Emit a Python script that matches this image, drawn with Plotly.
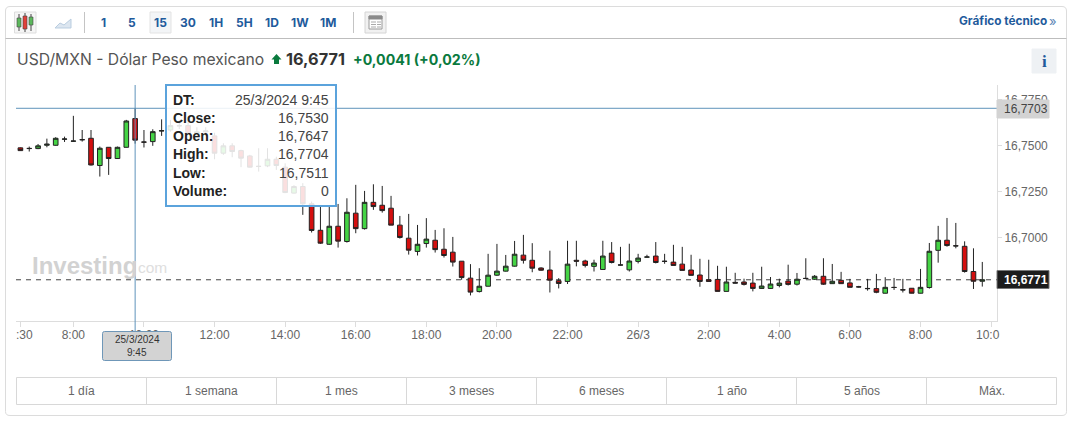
import pandas as pd
import plotly.graph_objects as go

times = pd.date_range("2024-03-25 06:30", periods=110, freq="15min")

opens = [16.7488,16.7484,16.7484,16.7502,16.7502,16.7535,16.7524,16.7533,16.7540,16.7392,
16.7491,16.7430,16.7491,16.7647,16.7520,16.7522,16.7580,16.7585,16.7608,16.7609,
16.7565,16.7575,16.7553,16.7459,16.7499,16.7473,16.7444,16.7388,16.7390,16.7426,
16.7383,16.7242,16.7278,16.7184,16.7040,16.6964,16.7062,16.6979,16.7133,16.7049,
16.7192,16.7176,16.7160,16.7068,16.6997,16.6925,16.6968,16.6986,16.6937,16.6921,
16.6872,16.6780,16.6707,16.6736,16.6796,16.6818,16.6845,16.6905,16.6877,16.6835,
16.6824,16.6766,16.6762,16.6877,16.6873,16.6844,16.6827,16.6916,16.6852,16.6825,
16.6871,16.6894,16.6900,16.6872,16.6867,16.6856,16.6824,16.6797,16.6771,16.6773,
16.6708,16.6757,16.6759,16.6753,16.6724,16.6724,16.6740,16.6764,16.6747,16.6779,
16.6774,16.6790,16.6750,16.6768,16.6754,16.6733,16.6724,16.6723,16.6698,16.6730,
16.6717,16.6725,16.6698,16.6729,16.6931,16.6986,16.6956,16.6953,16.6816,16.6763]
highs = [16.7490,16.7495,16.7509,16.7538,16.7546,16.7549,16.7662,16.7585,16.7585,16.7495,
16.7492,16.7495,16.7640,16.7704,16.7585,16.7589,16.7643,16.7640,16.7640,16.7640,
16.7600,16.7600,16.7570,16.7513,16.7513,16.7478,16.7450,16.7486,16.7486,16.7440,
16.7404,16.7285,16.7296,16.7196,16.7173,16.7173,16.7183,16.7214,16.7287,16.7254,
16.7290,16.7281,16.7227,16.7118,16.7129,16.7069,16.7106,16.7042,16.7051,16.7004,
16.6873,16.6856,16.6834,16.6912,16.6966,16.6906,16.6982,16.7015,16.6970,16.6839,
16.6929,16.6780,16.6983,16.6983,16.6880,16.6880,16.6983,16.6976,16.6950,16.6967,
16.6912,16.6907,16.6976,16.6912,16.6961,16.6950,16.6907,16.6885,16.6880,16.6847,
16.6842,16.6809,16.6777,16.6809,16.6842,16.6786,16.6777,16.6853,16.6808,16.6888,
16.6797,16.6888,16.6857,16.6814,16.6776,16.6738,16.6776,16.6803,16.6785,16.6781,
16.6776,16.6726,16.6830,16.6971,16.7064,16.7107,16.7080,16.6980,16.6942,16.6868]
lows = [16.7471,16.7468,16.7481,16.7491,16.7500,16.7520,16.7522,16.7522,16.7392,16.7332,
16.7341,16.7428,16.7490,16.7511,16.7490,16.7499,16.7553,16.7576,16.7590,16.7560,
16.7550,16.7555,16.7426,16.7450,16.7437,16.7383,16.7381,16.7359,16.7383,16.7368,
16.7242,16.7240,16.7124,16.7028,16.6966,16.6961,16.6946,16.6973,16.7024,16.7044,
16.7151,16.7136,16.7068,16.6995,16.6908,16.6903,16.6946,16.6919,16.6892,16.6843,
16.6771,16.6686,16.6702,16.6735,16.6792,16.6816,16.6843,16.6859,16.6812,16.6820,
16.6702,16.6724,16.6748,16.6844,16.6838,16.6816,16.6827,16.6860,16.6849,16.6816,
16.6860,16.6893,16.6860,16.6858,16.6849,16.6822,16.6795,16.6733,16.6762,16.6708,
16.6708,16.6751,16.6740,16.6708,16.6721,16.6721,16.6730,16.6740,16.6740,16.6774,
16.6770,16.6743,16.6749,16.6749,16.6729,16.6729,16.6712,16.6698,16.6697,16.6716,
16.6702,16.6697,16.6697,16.6723,16.6864,16.6951,16.6942,16.6810,16.6721,16.6734]
closes = [16.7473,16.7485,16.7499,16.7508,16.7540,16.7536,16.7525,16.7532,16.7395,16.7486,
16.7430,16.7491,16.7634,16.7530,16.7519,16.7576,16.7581,16.7609,16.7608,16.7564,
16.7575,16.7580,16.7459,16.7499,16.7468,16.7432,16.7383,16.7387,16.7426,16.7392,
16.7245,16.7278,16.7184,16.7039,16.6970,16.7062,16.6981,16.7138,16.7049,16.7192,
16.7169,16.7147,16.7068,16.7001,16.6932,16.6964,16.6992,16.6935,16.6903,16.6867,
16.6783,16.6704,16.6736,16.6796,16.6818,16.6845,16.6910,16.6877,16.6834,16.6823,
16.6769,16.6751,16.6856,16.6872,16.6849,16.6862,16.6900,16.6865,16.6851,16.6873,
16.6889,16.6895,16.6865,16.6871,16.6849,16.6822,16.6795,16.6762,16.6762,16.6708,
16.6759,16.6753,16.6746,16.6724,16.6737,16.6748,16.6753,16.6746,16.6774,16.6778,
16.6790,16.6747,16.6763,16.6750,16.6730,16.6732,16.6723,16.6703,16.6730,16.6729,
16.6716,16.6698,16.6730,16.6926,16.6986,16.6957,16.6955,16.6816,16.6763,16.6771]

y_ticks = [16.70, 16.725, 16.75, 16.775]
x_ticks = ["2024-03-25 06:30","2024-03-25 08:00","2024-03-25 10:00","2024-03-25 12:00","2024-03-25 14:00",
           "2024-03-25 16:00","2024-03-25 18:00","2024-03-25 20:00","2024-03-25 22:00","2024-03-26 00:00",
           "2024-03-26 02:00","2024-03-26 04:00","2024-03-26 06:00","2024-03-26 08:00","2024-03-26 10:00"]
x_tick_labels = ["","8:00","10:00","12:00","14:00","16:00","18:00","20:00","22:00","26/3","2:00","4:00","6:00","8:00",""]
crosshair_time = "2024-03-25 09:45"
crosshair_price = 16.7703
last_price = 16.6771
tooltip_rows = [("DT:","25/3/2024 9:45"),("Close:","16,7530"),("Open:","16,7647"),
                ("High:","16,7704"),("Low:","16,7511"),("Volume:","0")]
intervals = ["1","5","15","30","1H","5H","1D","1W","1M"]
ranges = ["1 día","1 semana","1 mes","3 meses","6 meses","1 año","5 años","Máx."]

W, H = 1074, 422
L, R, T, B = 16, 997, 85, 321
def px(x): return (x - L) / (R - L)
def py(y): return 1 - (y - T) / (B - T)

shapes, annos = [], []
def rect(x0, y0, x1, y1, fill="rgba(0,0,0,0)", line="#dddddd", w=1, layer="above"):
    shapes.append(dict(type="rect", xref="paper", yref="paper", x0=px(x0), x1=px(x1), y0=py(y0), y1=py(y1),
                       fillcolor=fill, line=dict(color=line, width=w), layer=layer))
def hline(x0, y0, x1, y1, color="#cccccc", w=1):
    shapes.append(dict(type="line", xref="paper", yref="paper", x0=px(x0), x1=px(x1), y0=py(y0), y1=py(y1),
                       line=dict(color=color, width=w), layer="above"))
def text(x, y, s, size=12, color="#333333", family="Liberation Sans", anchor="center", bold=False):
    annos.append(dict(xref="paper", yref="paper", x=px(x), y=py(y), text=f"<b>{s}</b>" if bold else s,
                      showarrow=False, xanchor=anchor, yanchor="middle", borderpad=0,
                      font=dict(size=size, color=color, family=family)))
def path(points, fill, line="rgba(0,0,0,0)"):
    d = "M" + " L".join(f"{px(x):.5f},{py(y):.5f}" for x, y in points) + " Z"
    shapes.append(dict(type="path", xref="paper", yref="paper", path=d, fillcolor=fill,
                       line=dict(color=line, width=1), layer="above"))

# card and header
shapes.append(dict(type="path", xref="paper", yref="paper", layer="below",
    path=f"M{px(10)},{py(6.5)} L{px(1062)},{py(6.5)} Q{px(1066.5)},{py(6.5)} {px(1066.5)},{py(11)} L{px(1066.5)},{py(411.5)} "
         f"Q{px(1066.5)},{py(415.5)} {px(1062)},{py(415.5)} L{px(10)},{py(415.5)} Q{px(5.5)},{py(415.5)} {px(5.5)},{py(411.5)} "
         f"L{px(5.5)},{py(11)} Q{px(5.5)},{py(6.5)} {px(10)},{py(6.5)} Z",
    line=dict(color="#dcdcdc", width=1), fillcolor="rgba(0,0,0,0)"))
hline(5.5, 38.5, 1066.5, 38.5, "#bdbdbd")
hline(84.5, 12, 84.5, 33, "#c4c4c4")
hline(353.5, 12, 353.5, 33, "#c4c4c4")
rect(14.5, 12, 36, 33, "#f5f5f5", "#dddddd")
for x, ya, yb, ba, bb, c in [(19, 14, 31, 18, 27, "#5cb85c"), (25, 13, 32, 16, 29, "#e0403a"), (31, 14, 31, 17, 25, "#5cb85c")]:
    hline(x, ya, x, yb, "#444444")
    rect(x - 2, ba, x + 2, bb, c, "#444444", 0.6)
path([(55, 28), (60, 23), (64, 25), (71, 19), (71, 28)], "#dce6f0", "#b9cde0")
rect(150, 12, 171, 33, "#f3f5f7", "#e3e3e3")
for cx, s in zip([103.5, 132, 160, 188, 216, 244, 272, 300, 328], intervals):
    text(cx, 22, s, 12, "#1f5b9c", "Inter", bold=True)
rect(365, 12, 386, 33, "#f1f1f1", "#d4d4d4")
rect(369, 16, 382, 29, "#ffffff", "#999999")
rect(369, 16, 382, 19, "#8a8a8a", "#8a8a8a")
for yy in (22, 24.5, 27):
    hline(371, yy, 376, yy, "#aaaaaa")
    hline(377, yy, 381, yy, "#aaaaaa")

text(957.5, 21.5, "Gráfico técnico", 11.8, "#1f5b9c", "Inter", "left", True)
text(1053, 21, "»", 13, "#5b85b5", "Inter")
text(16, 59.5, "USD/MXN - Dólar Peso mexicano", 15.7, "#555555", "Inter", "left")
path([(276.5, 54), (281.5, 59.5), (279, 59.5), (279, 64), (274, 64), (274, 59.5), (271.5, 59.5)], "#0a7a3e")
text(285, 59.5, "16,6771", 16.3, "#333333", "Inter", "left", True)
text(351.5, 59.5, "+0,0041 (+0,02%)", 14.2, "#0a7a3e", "Inter", "left", True)
rect(1032, 49, 1056, 73, "#eef1f4", "#eef1f4")
text(1044, 61, "i", 17, "#1f5b9c", "Liberation Serif", bold=True)

# watermark
text(31, 265, "Investing", 24, "#d2d2d2", "Liberation Sans", "left", True)
text(136.5, 267.5, "com", 15.5, "#dedede", "Liberation Sans", "left")

# price lines
shapes.append(dict(type="line", xref="paper", yref="y", x0=0, x1=1, y0=last_price, y1=last_price,
                   line=dict(color="#444444", width=1, dash="5px,5px"), layer="below"))
shapes.append(dict(type="line", xref="paper", yref="y", x0=0, x1=1, y0=crosshair_price, y1=crosshair_price,
                   line=dict(color="#5f93bb", width=1), layer="above"))
shapes.append(dict(type="line", xref="x", yref="paper", x0=crosshair_time, x1=crosshair_time, y0=py(331.5), y1=1,
                   line=dict(color="#5f93bb", width=1), layer="above"))

# tooltip
rect(166, 85, 336, 206, "rgba(255,255,255,0.87)", "#5ba3dc", 2)
for yy, (k, v) in zip([100, 118, 136, 154, 172.7, 191], tooltip_rows):
    text(172, yy, k, 14, "#222222", "Liberation Sans", "left", True)
    text(329.5, yy, v, 14, "#444444", "Liberation Sans", "right")

# axis flags
rect(997, 100, 1049, 118, "#d3d3d3", "#d3d3d3")
text(1026, 109, "16,7703", 12, "#444444")
rect(997, 270.5, 1049, 288.5, "#1c1c1c", "#777777")
text(1026, 279.5, "16,6771", 12, "#ffffff", bold=True)
bx0, bx1, by0, by1 = 102.5, 171.5, 331.5, 360.5
shapes.append(dict(type="path", xref="paper", yref="paper", layer="above",
    path=f"M{px(bx0+2)},{py(by0)} L{px(bx1-2)},{py(by0)} Q{px(bx1)},{py(by0)} {px(bx1)},{py(by0+2)} L{px(bx1)},{py(by1-2)} "
         f"Q{px(bx1)},{py(by1)} {px(bx1-2)},{py(by1)} L{px(bx0+2)},{py(by1)} Q{px(bx0)},{py(by1)} {px(bx0)},{py(by1-2)} "
         f"L{px(bx0)},{py(by0+2)} Q{px(bx0)},{py(by0)} {px(bx0+2)},{py(by0)} Z",
    fillcolor="#d3d3d3", line=dict(color="#6f97b8", width=1)))
text(137, 339.5, "25/3/2024", 10, "#333333")
text(137, 352.5, "9:45", 10, "#333333")

# clipped edge tick labels
annos.append(dict(xref="paper", yref="paper", x=px(24), y=py(334.7), text=":30", showarrow=False, xanchor="center",
                  yanchor="middle", font=dict(size=12, color="#666666", family="Liberation Sans")))
annos.append(dict(xref="paper", yref="paper", x=px(988), y=py(334.7), text="10:0", showarrow=False, xanchor="center",
                  yanchor="middle", font=dict(size=12, color="#666666", family="Liberation Sans")))

# range buttons
edges = [16.5, 146.5, 276.5, 406.5, 536.5, 666.5, 796.5, 926.5, 1056.5]
rect(edges[0], 377.5, edges[-1], 404.5, "rgba(0,0,0,0)", "#d8d8d8")
for e in edges[1:-1]:
    hline(e, 377.5, e, 404.5, "#d8d8d8")
for i, s in enumerate(ranges):
    text((edges[i] + edges[i + 1]) / 2, 390.7, s, 12, "#666666")

fig = go.Figure(go.Candlestick(
    x=times, open=opens, high=highs, low=lows, close=closes, whiskerwidth=0,
    increasing=dict(fillcolor="#45d445", line=dict(color="#222222", width=1)),
    decreasing=dict(fillcolor="#d40f0f", line=dict(color="#222222", width=1)),
    hoverinfo="skip", showlegend=False))

fig.update_layout(
    width=W, height=H, margin=dict(l=L, r=W - R, t=T, b=H - B, pad=0),
    paper_bgcolor="white", plot_bgcolor="white", separators=",.", showlegend=False,
    boxgap=0.3, boxgroupgap=0.25,
    shapes=shapes, annotations=annos,
    font=dict(family="Liberation Sans", size=12, color="#666666"),
    xaxis=dict(type="date", range=["2024-03-25 06:22:30", "2024-03-26 10:10:00"], rangeslider=dict(visible=False),
               tickmode="array", tickvals=x_ticks, ticktext=x_tick_labels, showgrid=False, zeroline=False,
               showline=True, linecolor="#dddddd", ticks="outside", ticklen=5, tickcolor="#dddddd",
               ticklabelstandoff=-2, tickfont=dict(size=12, color="#666666"), tickangle=0),
    yaxis=dict(side="right", range=[16.6547, 16.78296], tickmode="array", tickvals=y_ticks, tickformat=".4f",
               showgrid=False, zeroline=False, showline=True, linecolor="#dddddd", ticks="outside", ticklen=4,
               tickcolor="#dddddd", tickfont=dict(size=12, color="#666666")),
)

fig.write_html("out.html", config=dict(displayModeBar=False),
               post_script="document.body.style.margin='0';")
